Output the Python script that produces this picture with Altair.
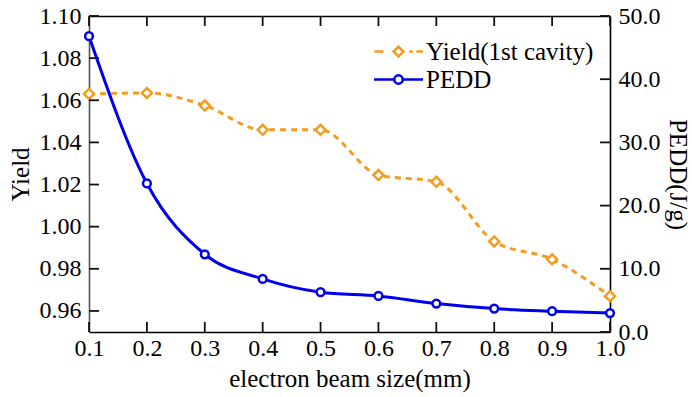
import altair as alt
import pandas as pd

beam_size = [0.1, 0.2, 0.3, 0.4, 0.5, 0.6, 0.7, 0.8, 0.9, 1.0]
yield_vals = [1.063, 1.0635, 1.0575, 1.046, 1.046, 1.0245, 1.0213, 0.993, 0.9845, 0.967]
pedd_vals = [46.8, 23.5, 12.3, 8.4, 6.3, 5.7, 4.5, 3.7, 3.3, 3.0]
series = ["Yield(1st cavity)", "PEDD"]
x_ticks = [0.1, 0.2, 0.3, 0.4, 0.5, 0.6, 0.7, 0.8, 0.9, 1.0]
yield_ticks = [0.96, 0.98, 1.00, 1.02, 1.04, 1.06, 1.08, 1.10]
pedd_ticks = [0, 10, 20, 30, 40, 50]

df = pd.DataFrame({"size": beam_size, "yield": yield_vals, "pedd": pedd_vals})
df_xt = pd.DataFrame({"size": x_ticks})
df_yt = pd.DataFrame({"yield": yield_ticks})
df_pt = pd.DataFrame({"pedd": pedd_ticks})

FONT = "Liberation Serif"
W, H = 521, 316
TICK = 10
ORANGE, BLUE = "#F59B1E", "#0000EE"

xs = alt.Scale(domain=[0.1, 1.0], nice=False, zero=False)
ys_y = alt.Scale(domain=[0.95, 1.10], nice=False, zero=False)
ys_p = alt.Scale(domain=[0, 50], nice=False, zero=False)

base = alt.Chart(df)
tick_style = dict(color="#111111", thickness=1.8, size=TICK, opacity=1, filled=True)

# --- Yield series with bottom x axis and left y axis (+ inward bottom/left ticks)
x_bottom = alt.X("size:Q", scale=xs, axis=alt.Axis(
    orient="bottom", values=x_ticks, format=".1f", title="electron beam size(mm)",
    ticks=False, tickSize=0, labelPadding=4, titlePadding=6, labelFlush=False,
    labelOverlap=False, grid=False))
y_left = alt.Y("yield:Q", scale=ys_y, axis=alt.Axis(
    orient="left", values=yield_ticks, format=".2f", title="Yield",
    ticks=False, tickSize=0, labelPadding=8, titlePadding=6, labelFlush=False,
    labelOverlap=False, grid=False, domainColor="#555555"))

yield_line = base.mark_line(color=ORANGE, strokeWidth=3, strokeDash=[6, 5],
                            interpolate="monotone").encode(x=x_bottom, y=y_left)
yield_pts = base.mark_point(shape="diamond", size=100, filled=True, fill="white",
                            stroke=ORANGE, strokeWidth=2.5, opacity=1).encode(x=x_bottom, y=y_left)
ticks_bottom = alt.Chart(df_xt).mark_tick(**tick_style).encode(
    x=x_bottom, y=alt.value(H - TICK / 2))
ticks_left = alt.Chart(df_yt).mark_tick(**tick_style).encode(
    y=y_left, x=alt.value(TICK / 2))
layer_a = alt.layer(yield_line, yield_pts, ticks_bottom, ticks_left)

# --- PEDD series with top frame and right y axis (+ inward top/right ticks)
x_top = alt.X("size:Q", scale=xs, axis=alt.Axis(
    orient="top", labels=False, ticks=False, tickSize=0, title=None, grid=False))
y_right = alt.Y("pedd:Q", scale=ys_p, axis=alt.Axis(
    orient="right", values=pedd_ticks, format=".1f", title="PEDD(J/g)",
    ticks=False, tickSize=0, labelPadding=8, titlePadding=4, titleAngle=90,
    labelFlush=False, labelOverlap=False, grid=False))

pedd_line = base.mark_line(color=BLUE, strokeWidth=3, interpolate="monotone").encode(x=x_top, y=y_right)
pedd_pts = base.mark_point(shape="circle", size=60, filled=True, fill="white",
                           stroke=BLUE, strokeWidth=2.5, opacity=1).encode(x=x_top, y=y_right)
ticks_top = alt.Chart(df_xt).mark_tick(**tick_style).encode(
    x=x_top, y=alt.value(TICK / 2))
ticks_right = alt.Chart(df_pt).mark_tick(**tick_style).encode(
    y=y_right, x=alt.value(W - TICK / 2))
layer_c = alt.layer(pedd_line, pedd_pts, ticks_top, ticks_right)

# --- legend (line + marker symbols)
path_yield = ("M-3.45,0L-2.15,0 M0,-0.7L0.7,0L0,0.7L-0.7,0Z "
              "M1.55,0L2.05,0 M2.55,0L3.5,0")
path_pedd = ("M-3.5,0L-0.6,0 M0.6,0A0.6,0.6 0 1,1 -0.6,0A0.6,0.6 0 1,1 0.6,0 "
             "M0.6,0L3.5,0")
legend_kw = dict(orient="none", legendX=297, legendY=23, padding=0, title=None,
                 symbolSize=196, symbolStrokeWidth=2.5, symbolFillColor="white",
                 symbolOpacity=1,
                 labelFont=FONT, labelFontSize=25, labelColor="black",
                 labelOffset=15, rowPadding=2, labelLimit=400)
layer_e = alt.Chart(df).transform_filter("false").mark_point(filled=False, strokeWidth=2.5, opacity=1).encode(
    stroke=alt.Stroke("series:N", scale=alt.Scale(domain=series, range=[ORANGE, BLUE]),
                      legend=alt.Legend(**legend_kw)),
    shape=alt.Shape("series:N", scale=alt.Scale(domain=series, range=[path_yield, path_pedd]),
                    legend=alt.Legend(**legend_kw)),
)

chart = alt.layer(layer_a, layer_c, layer_e).resolve_scale(
    y="independent"
).resolve_axis(
    x="independent", y="independent"
).properties(
    width=W, height=H,
    background="white",
    autosize=alt.AutoSizeParams(type="none"),
    padding={"left": 89, "top": 16, "right": 82, "bottom": 65},
).configure_axis(
    labelFont=FONT, labelFontSize=24, titleFont=FONT, titleFontSize=25,
    titleFontWeight="normal", labelColor="black", titleColor="black",
    domainColor="black", tickColor="black", domainWidth=1.6, tickWidth=1.6,
).configure_view(stroke=None)

chart.save("out.html", embed_options={"renderer": "svg", "actions": False})
